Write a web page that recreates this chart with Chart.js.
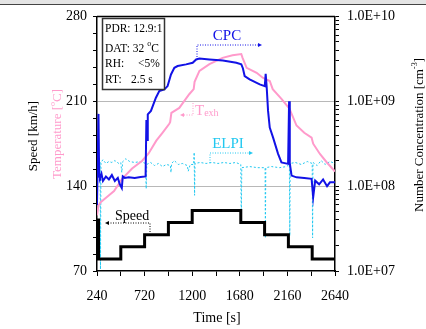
<!DOCTYPE html>
<html>
<head>
<meta charset="utf-8">
<script src="https://cdn.jsdelivr.net/npm/chart.js@4.4.0/dist/chart.umd.min.js"></script>
<style>
html, body { margin:0; padding:0; background:#fff; }
#wrap { position:relative; width:426px; height:329px; }
#bar { position:absolute; left:0; top:0; width:426px; height:4px; background:#e4e4e4; border-bottom:1px solid #444; }
</style>
</head>
<body>
<div id="wrap"><canvas id="chart" width="426" height="329"></canvas><div id="bar"></div></div>
<script>
// time axis [s]
var timeTicks = [240, 720, 1200, 1680, 2160, 2640];

// vehicle speed [km/h] (stepped)
var speedTime  = [240, 255, 480, 720, 960, 1200, 1690, 1930, 2170, 2410, 2640];
var speedValue = [112, 80,  90,  100, 110, 120,  110,  100,  90,   80,   80];

// exhaust temperature [C]
var tempTime  = [240, 255, 280, 340, 412, 493, 594, 696, 760, 838, 900, 969, 978, 990, 1070, 1121, 1172, 1215, 1224, 1273, 1374, 1506, 1607, 1695, 1708, 1749, 1850, 1911, 1982, 2012, 2100, 2180, 2252, 2330, 2404, 2420, 2488, 2556, 2640];
var tempValue = [116, 124, 127, 131, 136, 146, 154.5, 161, 167, 177.5, 184, 191.4, 193, 200.5, 204.5, 210.3, 216, 220, 226, 235, 240.6, 245.8, 248, 249, 245.8, 237.6, 233.5, 229.4, 226.7, 220, 212, 204, 190, 184, 180, 175, 166.5, 159.7, 152];

// CPC number concentration [cm-3]
var cpcTime = [240, 255, 262, 270, 285, 300, 330, 360, 390, 420, 450, 470, 490, 500, 520, 560, 620, 680, 730, 738, 745, 752, 784, 834, 868, 919, 952, 986, 1020, 1053, 1138, 1205, 1240, 1273, 1374, 1509, 1645, 1695, 1711, 1729, 1779, 1881, 1932, 1941, 1951, 1965, 1982, 2015, 2066, 2100, 2167, 2177, 2184, 2202, 2252, 2330, 2404, 2420, 2440, 2480, 2520, 2560, 2589, 2640];
var cpcConc = [6e7, 7.1e8, 1.3e8, 1.25e8, 1.4e8, 1.15e8, 1.3e8, 1.2e8, 1.35e8, 1.15e8, 1.25e8, 1.05e8, 9.5e7, 1.3e8, 1.25e8, 1.27e8, 1.25e8, 1.28e8, 1.3e8, 6e8, 3.5e8, 7e8, 7.7e8, 1.1e9, 1.32e9, 1.38e9, 1.51e9, 2.07e9, 2.48e9, 2.6e9, 2.72e9, 2.84e9, 3.11e9, 3.19e9, 3.11e9, 3.02e9, 2.84e9, 2.72e9, 2.45e9, 1.98e9, 1.81e9, 1.58e9, 1.51e9, 2.1e9, 1.48e9, 7.7e8, 4.9e8, 3.75e8, 2.4e8, 1.9e8, 1.83e8, 1.0e9, 1.86e8, 1.33e8, 1.27e8, 1.25e8, 1.22e8, 7.4e7, 1.16e8, 1.05e8, 1.2e8, 1.0e8, 1.11e8, 1.11e8];

// ELPI number concentration [cm-3]
var elpiTime = [240, 250, 265, 272, 275, 280, 300, 330, 360, 390, 420, 460, 480, 490, 500, 530, 570, 620, 680, 730, 736, 742, 780, 820, 860, 900, 940, 980, 986, 992, 1020, 1060, 1100, 1150, 1160, 1180, 1215, 1220, 1224, 1228, 1280, 1340, 1400, 1460, 1520, 1580, 1640, 1690, 1695, 1700, 1780, 1860, 1935, 1938, 1942, 2000, 2080, 2150, 2180, 2184, 2188, 2240, 2300, 2360, 2410, 2414, 2418, 2460, 2500, 2540, 2590, 2640];
var elpiConc = [1.9e8, 1.95e8, 1.85e8, 1.9e8, 1.05e7, 1.9e8, 2.05e8, 1.85e8, 1.95e8, 1.9e8, 2.0e8, 1.85e8, 1.9e8, 1.45e8, 1.95e8, 2.1e8, 1.95e8, 1.9e8, 1.95e8, 1.85e8, 9.3e7, 1.8e8, 1.9e8, 1.75e8, 1.85e8, 1.7e8, 1.8e8, 1.75e8, 1.45e8, 1.85e8, 2.0e8, 1.8e8, 1.85e8, 1.75e8, 1.5e8, 1.8e8, 1.8e8, 2.5e8, 7.8e7, 1.85e8, 1.9e8, 1.85e8, 1.9e8, 1.85e8, 1.9e8, 1.85e8, 1.9e8, 1.8e8, 4.0e7, 1.65e8, 1.7e8, 1.65e8, 1.65e8, 2.5e7, 1.65e8, 1.7e8, 1.65e8, 1.7e8, 1.8e8, 2.6e7, 1.85e8, 1.9e8, 1.8e8, 1.95e8, 1.85e8, 2.45e7, 1.9e8, 1.75e8, 2.0e8, 1.8e8, 1.95e8, 1.85e8];

var PINK = '#ff9acb', BLUE = '#1212e6', CYAN = '#22c8f0';
var SERIF = '"Liberation Serif", "Times New Roman", serif';

function pts(xs, ys) {
	return xs.map(function(x, i) { return {x: x, y: ys[i]}; });
}

function runsWidth(ctx, runs) {
	var w = 0;
	runs.forEach(function(r) {
		ctx.font = r.size + 'px ' + SERIF;
		w += ctx.measureText(r.text).width;
	});
	return w;
}
function drawRuns(ctx, x, y, runs, color, center) {
	ctx.fillStyle = color;
	ctx.textBaseline = 'alphabetic';
	ctx.textAlign = 'left';
	var cx = center ? x - runsWidth(ctx, runs) / 2 : x;
	runs.forEach(function(r) {
		ctx.font = r.size + 'px ' + SERIF;
		ctx.fillText(r.text, cx, y + (r.dy || 0));
		cx += ctx.measureText(r.text).width;
	});
}
function dotted(ctx, coords, color) {
	ctx.save();
	ctx.strokeStyle = color;
	ctx.lineWidth = 1;
	ctx.setLineDash([1, 1.5]);
	ctx.beginPath();
	ctx.moveTo(coords[0], coords[1]);
	for (var i = 2; i < coords.length; i += 2) ctx.lineTo(coords[i], coords[i + 1]);
	ctx.stroke();
	ctx.restore();
}
function head(ctx, x, y, dir, color) {
	ctx.fillStyle = color;
	ctx.beginPath();
	ctx.moveTo(x, y);
	ctx.lineTo(x - dir * 4, y - 2);
	ctx.lineTo(x - dir * 4, y + 2);
	ctx.closePath();
	ctx.fill();
}

var overlay = {
	id: 'overlay',
	afterDraw: function(chart) {
		var ctx = chart.ctx, a = chart.chartArea;
		ctx.save();
		// top frame line
		ctx.strokeStyle = '#000';
		ctx.lineWidth = 1.5;
		ctx.beginPath();
		ctx.moveTo(a.left, a.top);
		ctx.lineTo(a.right, a.top);
		ctx.stroke();

		// axis titles
		drawRuns(ctx, 217, 322, [{text: 'Time [s]', size: 14}], '#000', true);
		ctx.save(); ctx.translate(32, 136); ctx.rotate(-Math.PI / 2);
		drawRuns(ctx, 0, 4.5, [{text: 'Speed [km/h]', size: 13}], '#000', true);
		ctx.restore();
		ctx.save(); ctx.translate(56, 134); ctx.rotate(-Math.PI / 2);
		drawRuns(ctx, 0, 4.5, [{text: 'Temperature [', size: 13}, {text: 'o', size: 8, dy: -6}, {text: 'C]', size: 13}], PINK, true);
		ctx.restore();
		ctx.save(); ctx.translate(418, 135); ctx.rotate(-Math.PI / 2);
		drawRuns(ctx, 0, 4.5, [{text: 'Number Concentration [cm', size: 13}, {text: '-3', size: 8, dy: -6}, {text: ']', size: 13}], '#000', true);
		ctx.restore();

		// conditions box
		ctx.fillStyle = '#fff';
		ctx.fillRect(102.5, 18.5, 62, 71);
		ctx.strokeStyle = '#333';
		ctx.lineWidth = 1.5;
		ctx.strokeRect(102.5, 18.5, 62, 71);
		drawRuns(ctx, 105, 31.5, [{text: 'PDR: 12.9:1', size: 11.5}], '#000');
		drawRuns(ctx, 105, 51.5, [{text: 'DAT: 32 ', size: 11.5}, {text: 'o', size: 8, dy: -6}, {text: 'C', size: 11.5}], '#000');
		drawRuns(ctx, 105, 67, [{text: 'RH:', size: 11.5}], '#000');
		drawRuns(ctx, 138, 67, [{text: '<5%', size: 11.5}], '#000');
		drawRuns(ctx, 105, 83, [{text: 'RT:', size: 11.5}], '#000');
		drawRuns(ctx, 131, 83, [{text: '2.5 s', size: 11.5}], '#000');

		// series labels
		drawRuns(ctx, 227, 40, [{text: 'CPC', size: 15}], BLUE, true);
		dotted(ctx, [197, 57, 197, 45, 258, 45], BLUE);
		head(ctx, 262, 45, 1, BLUE);

		drawRuns(ctx, 228, 148, [{text: 'ELPI', size: 15}], CYAN, true);
		dotted(ctx, [210, 163, 210, 153, 249, 153], CYAN);
		head(ctx, 253, 153, 1, CYAN);

		drawRuns(ctx, 195, 115, [{text: 'T', size: 15}, {text: 'exh', size: 10, dy: 1}], PINK);
		dotted(ctx, [193, 103, 193, 115, 184, 115], PINK);
		head(ctx, 180, 115, -1, PINK);

		drawRuns(ctx, 115, 220, [{text: 'Speed', size: 14}], '#000');
		dotted(ctx, [150, 232, 150, 223, 109, 223], '#000');
		head(ctx, 105, 223, -1, '#000');
		ctx.restore();
	}
};

var tickFont = {family: SERIF, size: 14};

new Chart(document.getElementById('chart'), {
	type: 'line',
	data: {
		datasets: [
			{label: 'Speed', data: pts(speedTime, speedValue), yAxisID: 'y', borderColor: '#000', borderWidth: 3, stepped: 'before', pointRadius: 0},
			{label: 'CPC', data: pts(cpcTime, cpcConc), yAxisID: 'y1', borderColor: BLUE, borderWidth: 2, pointRadius: 0, tension: 0},
			{label: 'Texh', data: pts(tempTime, tempValue), yAxisID: 'y', borderColor: PINK, borderWidth: 2, pointRadius: 0, tension: 0},
			{label: 'ELPI', data: pts(elpiTime, elpiConc), yAxisID: 'y1', borderColor: CYAN, borderWidth: 1, borderDash: [2, 2], pointRadius: 0, tension: 0}
		]
	},
	options: {
		responsive: false,
		devicePixelRatio: 1,
		animation: false,
		layout: {padding: {top: 15, left: 0, right: 0, bottom: 0}},
		plugins: {legend: {display: false}, tooltip: {enabled: false}},
		scales: {
			x: {
				type: 'linear', min: 240, max: 2640,
				afterFit: function(s) { s.height = 58; },
				border: {display: true, color: '#000', width: 1.5},
				grid: {drawOnChartArea: false, tickColor: '#000', tickLength: 5},
				ticks: {stepSize: 240, autoSkip: false, maxRotation: 0, padding: 12, color: '#000', font: tickFont,
					callback: function(v) { return timeTicks.indexOf(v) >= 0 ? String(v) : ''; }}
			},
			y: {
				position: 'left', min: 70, max: 280,
				afterFit: function(s) { s.width = 97; },
				border: {display: true, color: '#000', width: 1.5},
				grid: {
					color: function(c) { return (c.tick && (c.tick.value === 140 || c.tick.value === 210)) ? '#b8b8b8' : 'rgba(0,0,0,0)'; },
					tickColor: '#000', tickLength: 4
				},
				ticks: {stepSize: 14, autoSkip: false, padding: 6, color: '#000', font: tickFont,
					callback: function(v) { return v % 70 === 0 ? String(v) : ''; }}
			},
			y1: {
				type: 'logarithmic', position: 'right', min: 1e7, max: 1e10,
				afterFit: function(s) { s.width = 91; },
				afterBuildTicks: function(s) {
					s.ticks = s.ticks.filter(function(t) {
						var m = t.value / Math.pow(10, Math.floor(Math.log10(t.value) + 1e-9));
						return Math.abs(m - Math.round(m)) < 1e-6;
					});
				},
				border: {display: true, color: '#000', width: 1.5},
				grid: {drawOnChartArea: false, tickColor: '#000', tickLength: 4},
				ticks: {autoSkip: false, padding: 8, color: '#000', font: tickFont,
					callback: function(v) {
						var e = Math.log10(v);
						return Math.abs(e - Math.round(e)) < 1e-6 ? '1.0E+' + String(Math.round(e)).padStart(2, '0') : '';
					}}
			}
		}
	},
	plugins: [overlay]
});
</script>
</body>
</html>
